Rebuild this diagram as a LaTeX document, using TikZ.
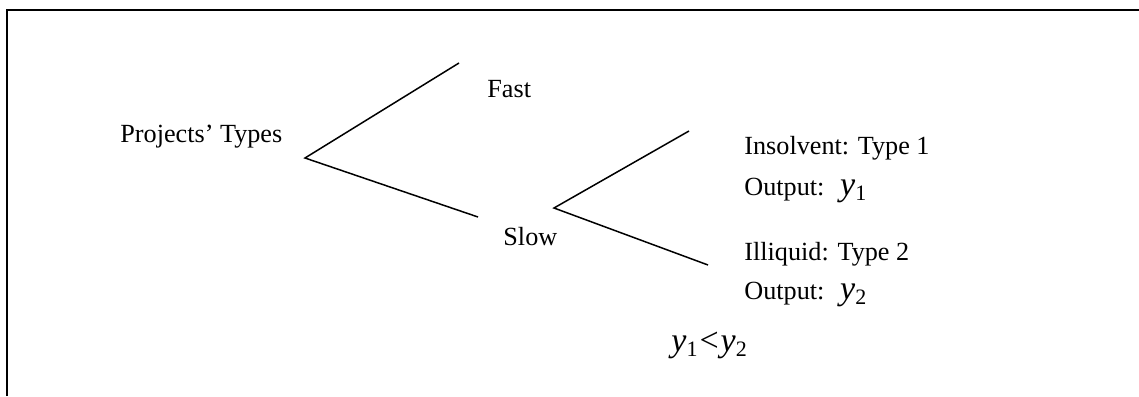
\documentclass[tikz,border=0pt]{standalone}
\usepackage{fontspec}
\setmainfont{Liberation Serif}
\newcommand{\yvar}[1]{{\fontsize{17}{20}\selectfont\textit{y}}\raisebox{-2.5pt}{\fontsize{11}{13}\selectfont #1}}
\newcommand{\lessbig}{{\fontsize{17}{20}\selectfont<}}
\begin{document}
\begin{tikzpicture}[x=0.5pt,y=-0.5pt,
  lbl/.style={anchor=base west,inner sep=0pt,font=\fontsize{13.1}{15}\selectfont},
  branch/.style={line width=0.75pt},
  frame/.style={line width=1pt}]
\useasboundingbox (0,0) rectangle (1139,396);
% frame (top and left edges)
\coordinate (ftl) at (7,10);
\coordinate (ftr) at (1139,10);
\coordinate (fbl) at (7,396);
\draw[frame] (fbl) -- (ftl) -- (ftr);
% tree vertices
\coordinate (root) at (305,158);
\coordinate (fastend) at (459,63);
\coordinate (slowend) at (478,217);
\coordinate (slowv) at (554,208);
\coordinate (insend) at (689,131);
\coordinate (illend) at (708,265);
\draw[branch] (fastend) -- (root) -- (slowend);
\draw[branch] (insend) -- (slowv) -- (illend);
% labels
\node[lbl] (proj) at (120,142) {Projects’ Types};
\node[lbl] (fast) at (487,97) {Fast};
\node[lbl] (slow) at (503,245) {Slow};
\node[lbl] (ins) at (744,154) {Insolvent: Type 1};
\node[lbl] (out1) at (744,195) {Output:\hspace{0.6em}\yvar{1}};
\node[lbl] (ill) at (744,260) {Illiquid: Type 2};
\node[lbl] (out2) at (744,299) {Output:\hspace{0.6em}\yvar{2}};
\node[lbl] (ineq) at (671,351) {\yvar{1}\kern1pt\lessbig\kern1pt\yvar{2}};
\end{tikzpicture}
\end{document}
